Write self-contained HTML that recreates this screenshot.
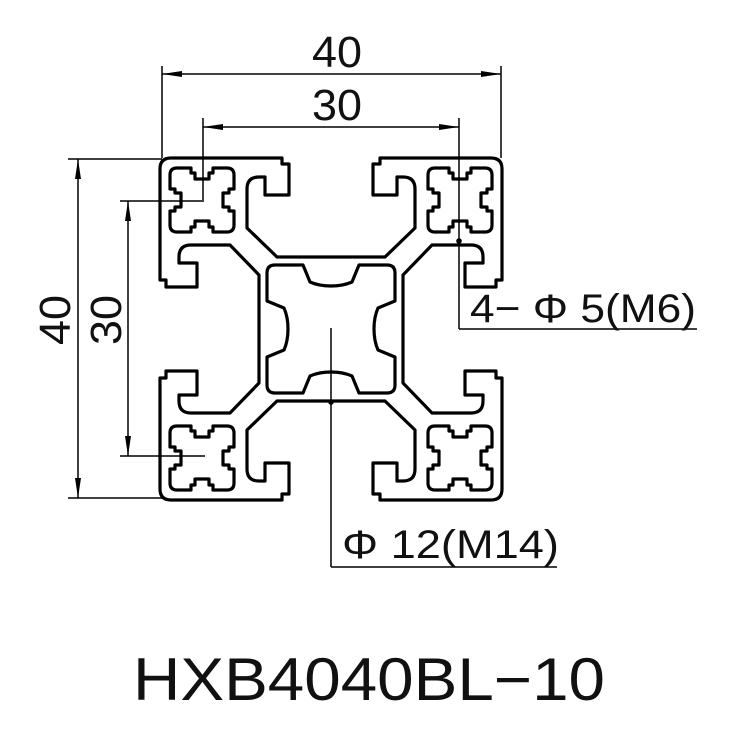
<!DOCTYPE html>
<html><head><meta charset="utf-8"><style>
html,body{margin:0;padding:0;background:#fff;}
svg{display:block;}
text{font-family:"Liberation Sans",sans-serif;fill:#111;}
</style></head><body>
<svg width="750" height="750" viewBox="0 0 750 750" xmlns="http://www.w3.org/2000/svg">
<defs>
<g id="q" fill="none" stroke="#000" stroke-width="3.2" stroke-linejoin="round">
  <!-- outer contour quarter -->
  <path d="M0,-72 L-54,-72 L-84,-101 L-84,-140 Q-84,-152 -72,-152 L-66,-152 L-66,-134 L-42,-134 L-42,-165 L-49,-165 L-49,-171 L-160,-171 Q-171,-171 -171,-160 L-171,-49 L-165,-49 L-165,-42 L-134,-42 L-134,-66 L-152,-66 L-152,-72 Q-152,-84 -140,-84 L-101,-84 L-72,-54 L-72,0"/>
  <!-- center hole quarter -->
  <path d="M0,-43 Q-12,-43 -21,-47 L-28,-64 L-56,-64 Q-64,-64 -64,-56 L-64,-28 L-47,-21 Q-43,-12 -43,0"/>
  <!-- corner block -->
  <path transform="translate(-129,-129)" d="M-25,-32 L-11,-32 L-11,-27 L-7,-27 L-7,-21 L7,-21 L7,-27 L11,-27 L11,-32 L25,-32 Q32,-32 32,-25 L32,-11 L27,-11 L27,-7 L21,-7 L21,7 L27,7 L27,11 L32,11 L32,25 Q32,32 25,32 L11,32 L11,27 L7,27 L7,21 L-7,21 L-7,27 L-11,27 L-11,32 L-25,32 Q-32,32 -32,25 L-32,11 L-27,11 L-27,7 L-21,7 L-21,-7 L-27,-7 L-27,-11 L-32,-11 L-32,-25 Q-32,-32 -25,-32 Z"/>
</g>
</defs>
<g transform="translate(331,329)">
  <use href="#q"/>
  <use href="#q" transform="scale(-1,1)"/>
  <use href="#q" transform="scale(1,-1)"/>
  <use href="#q" transform="scale(-1,-1)"/>
</g>

<g stroke="#000" stroke-width="1.5" fill="none">
  <!-- top 40 -->
  <line x1="162" y1="66" x2="162" y2="158"/>
  <line x1="501" y1="66" x2="501" y2="158"/>
  <line x1="162" y1="74" x2="501" y2="74"/>
  <!-- top 30 -->
  <line x1="203" y1="118" x2="203" y2="200"/>
  <line x1="459" y1="118" x2="459" y2="329"/>
  <line x1="459" y1="329" x2="697" y2="329"/>
  <line x1="203" y1="127" x2="459" y2="127"/>
  <!-- left 40 -->
  <line x1="68" y1="159" x2="162" y2="159"/>
  <line x1="68" y1="498" x2="162" y2="498"/>
  <line x1="78" y1="159" x2="78" y2="498"/>
  <!-- left 30 -->
  <line x1="120" y1="201" x2="204" y2="201"/>
  <line x1="120" y1="456" x2="205" y2="456"/>
  <line x1="128" y1="201" x2="128" y2="456"/>
  <!-- phi12 leader -->
  <line x1="331" y1="328" x2="331" y2="567"/>
  <line x1="331" y1="567" x2="557" y2="567"/>
</g>
<g fill="#000">
  <path d="M162,74 L182,71 L182,77 Z"/><path d="M501,74 L481,71 L481,77 Z"/>
  <path d="M203,127 L223,124 L223,130 Z"/><path d="M459,127 L439,124 L439,130 Z"/>
  <path d="M78,159 L75,179 L81,179 Z"/><path d="M78,498 L75,478 L81,478 Z"/>
  <path d="M128,201 L125,221 L131,221 Z"/><path d="M128,456 L125,436 L131,436 Z"/>
  <circle cx="459" cy="241" r="2.8"/>
  <circle cx="331" cy="402" r="2.8"/>
</g>

<text x="312" y="67" font-size="44" textLength="50" lengthAdjust="spacingAndGlyphs">40</text>
<text x="312" y="120" font-size="44" textLength="50" lengthAdjust="spacingAndGlyphs">30</text>
<text transform="translate(70,345) rotate(-90)" font-size="44" textLength="50" lengthAdjust="spacingAndGlyphs">40</text>
<text transform="translate(121,345) rotate(-90)" font-size="44" textLength="50" lengthAdjust="spacingAndGlyphs">30</text>
<text x="470" y="322" font-size="40" textLength="226" lengthAdjust="spacingAndGlyphs">4− Φ 5(M6)</text>
<text x="342" y="558" font-size="40" textLength="217" lengthAdjust="spacingAndGlyphs">Φ 12(M14)</text>
<text x="133" y="700" font-size="60" textLength="472" lengthAdjust="spacingAndGlyphs">HXB4040BL−10</text>
</svg>
</body></html>
